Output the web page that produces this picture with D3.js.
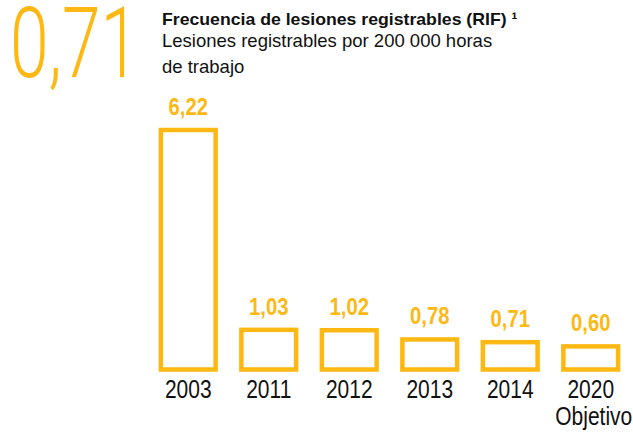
<!DOCTYPE html>
<html>
<head>
<meta charset="utf-8">
<script src="https://cdn.jsdelivr.net/npm/d3@7"></script>
<style>
  body { margin: 0; background: #fff; }
  text { font-family: "Liberation Sans", Arial, sans-serif; }
</style>
</head>
<body>
<div id="chart"></div>
<script>
// data
var years = ["2003", "2011", "2012", "2013", "2014", "2020"];
var values = [6.22, 1.03, 1.02, 0.78, 0.71, 0.60];
var valueLabels = ["6,22", "1,03", "1,02", "0,78", "0,71", "0,60"];
var yearNotes = ["", "", "", "", "", "Objetivo"];
var headline = "0,71";
var title = "Frecuencia de lesiones registrables (RIF) \u00b9";
var subtitle = ["Lesiones registrables por 200 000 horas", "de trabajo"];

var orange = "#FDB813";
var ink = "#111";
var width = 633, height = 433;

var svg = d3.select("#chart")
    .append("svg")
        .attr("width", width)
        .attr("height", height);

// text helper: a group positioned at (x,y) then squeezed horizontally
function label(parent, x, y, sx) {
    return parent.append("g")
        .attr("transform", "translate(" + x + "," + y + ") scale(" + sx + ",1)")
        .append("text");
}

// big headline number
label(svg, 10, 77, 0.71)
    .attr("fill", orange)
    .style("font-family", "Roboto, 'Liberation Sans', sans-serif")
    .style("font-weight", 300)
    .style("font-size", "98px")
    .text(headline);

// title block
label(svg, 162, 24.5, 1.04)
    .style("font-weight", "bold")
    .style("font-size", "17px")
    .attr("fill", ink)
    .text(title);

subtitle.forEach(function(s, i) {
    label(svg, 162, 47 + i * 25.5, 1.0)
        .style("font-size", "18.5px")
        .attr("fill", ink)
        .text(s);
});

// scales
var x = d3.scaleBand()
    .domain(years)
    .range([148, 631])
    .paddingInner(0.32)
    .paddingOuter(0.16);

var y = d3.scaleLinear()
    .domain([0, 6.22])
    .range([369.5, 130]);

var data = years.map(function(d, i) {
    return { year: d, value: values[i], label: valueLabels[i], note: yearNotes[i] };
});

// bars (outlined)
svg.selectAll(".bar")
    .data(data)
    .enter().append("rect")
    .attr("class", "bar")
    .attr("x", function(d) { return x(d.year); })
    .attr("y", function(d) { return y(d.value); })
    .attr("width", x.bandwidth())
    .attr("height", function(d) { return y(0) - y(d.value); })
    .attr("fill", "none")
    .attr("stroke", orange)
    .attr("stroke-width", 4.5);

// value labels, year labels
data.forEach(function(d) {
    var cx = x(d.year) + x.bandwidth() / 2;
    label(svg, cx, y(d.value) - 15, 0.88)
        .attr("text-anchor", "middle")
        .style("font-weight", "bold")
        .style("font-size", "23px")
        .attr("fill", orange)
        .text(d.label);

    label(svg, cx, 398, 0.84)
        .attr("text-anchor", "middle")
        .style("font-size", "25px")
        .attr("fill", ink)
        .text(d.year);

    if (d.note) {
        label(svg, cx + 3, 425, 0.84)
            .attr("text-anchor", "middle")
            .style("font-size", "25px")
            .attr("fill", ink)
            .text(d.note);
    }
});
</script>
</body>
</html>
